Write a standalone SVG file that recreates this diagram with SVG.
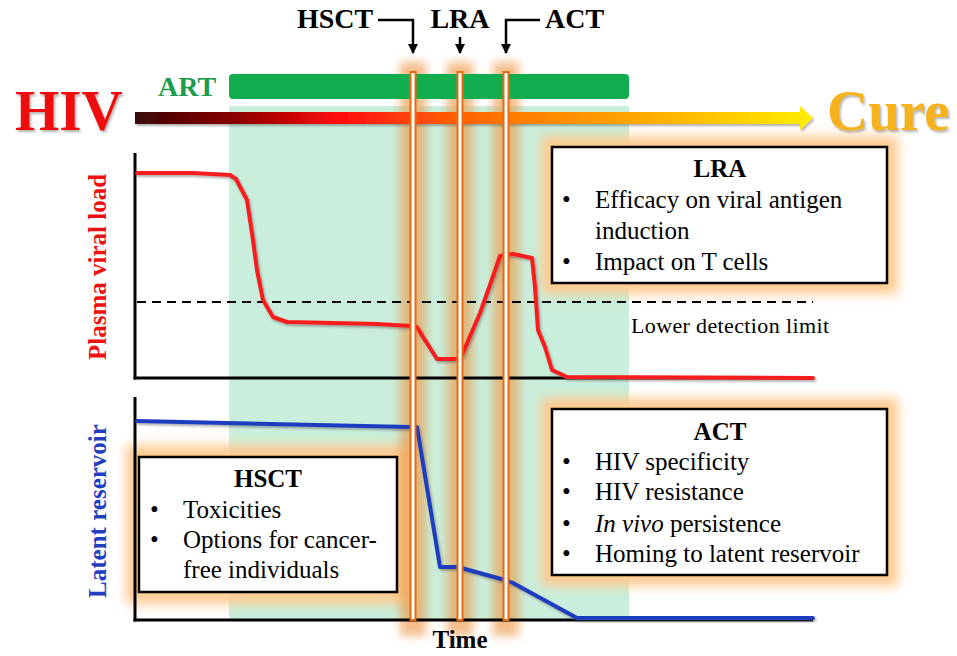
<svg xmlns="http://www.w3.org/2000/svg" width="957" height="656" viewBox="0 0 957 656">
<style>
.serif{font-family:"Liberation Serif","Times New Roman",serif}
.b{font-weight:bold}
.boxtxt{font-family:"Liberation Serif","Times New Roman",serif;font-size:25px;fill:#000}
.title{font-family:"Liberation Serif","Times New Roman",serif;font-size:25px;font-weight:bold;text-anchor:middle;fill:#000}
.box{fill:#fff;stroke:#000;stroke-width:2.5}
.boxglow{fill:#ffcb90;filter:url(#blur6)}
.barglow{fill:#ee9440;opacity:.62;filter:url(#blur5)}
.bar{fill:#fff;stroke:#ea6a12;stroke-width:2}
.axis{stroke:#000;stroke-width:3;fill:none}
.conn{stroke:#000;stroke-width:2.5;fill:none}
.toplabel{font-family:"Liberation Serif","Times New Roman",serif;font-size:28px;font-weight:bold;fill:#000}
</style>
<defs>
<filter id="blur6" x="-30%" y="-30%" width="160%" height="160%"><feGaussianBlur stdDeviation="6"/></filter>
<filter id="blur5" x="-100%" y="-10%" width="300%" height="120%"><feGaussianBlur stdDeviation="5"/></filter>
<filter id="shadow" x="-10%" y="-20%" width="120%" height="160%"><feDropShadow dx="1.5" dy="2" stdDeviation="1.2" flood-color="#555" flood-opacity="0.45"/></filter>
<linearGradient id="cureGrad" gradientUnits="userSpaceOnUse" x1="135" y1="0" x2="813" y2="0">
<stop offset="0" stop-color="#3a0808"/>
<stop offset="0.15" stop-color="#8c0000"/>
<stop offset="0.3" stop-color="#ff0a0a"/>
<stop offset="0.42" stop-color="#ff4a08"/>
<stop offset="0.55" stop-color="#ff7a00"/>
<stop offset="0.75" stop-color="#ffaa00"/>
<stop offset="1" stop-color="#ffee00"/>
</linearGradient>
<marker id="arrowhead" viewBox="0 0 10 10" refX="9" refY="5" markerWidth="4" markerHeight="4.4" orient="auto" markerUnits="strokeWidth">
<path d="M0,0 L10,5 L0,10 z" fill="#000"/>
</marker>
</defs>

<rect width="957" height="656" fill="#fff"/>

<!-- ART shaded region -->
<rect id="art-region" x="229" y="106" width="400" height="514" fill="#c9eedb"/>

<!-- box glows -->
<rect class="boxglow" x="541" y="136" width="357" height="158"/>
<rect class="boxglow" x="541" y="398" width="357" height="188"/>
<rect class="boxglow" x="126" y="445" width="284" height="159"/>

<!-- bar glows -->
<rect class="barglow" x="400" y="62" width="26" height="574"/>
<rect class="barglow" x="447" y="62" width="26" height="574"/>
<rect class="barglow" x="493" y="62" width="26" height="574"/>

<!-- Title texts -->
<g id="hiv-label"><text class="serif b" x="15" y="130" font-size="57" fill="#ee1111" filter="url(#shadow)">HIV</text></g>
<g id="cure-label"><text class="serif b" x="827" y="130" font-size="57" fill="#f5b21c" filter="url(#shadow)">Cure</text></g>

<!-- Gradient arrow -->
<g id="progress-arrow"><path d="M135,112 L800,112 L800,106 L813,118 L800,130 L800,124 L135,124 Z" fill="url(#cureGrad)" filter="url(#shadow)"/></g>

<!-- ART -->
<g id="art">
<text class="serif b" x="158" y="96" font-size="28" fill="#1a9e4e">ART</text>
<rect x="229" y="74" width="400" height="25" rx="4" fill="#12ad4f"/>
</g>

<!-- Plot 1 -->
<g id="plot-viral-load">
<line class="axis" x1="135" y1="153" x2="135" y2="379.5"/>
<line class="axis" x1="133.5" y1="378" x2="813" y2="378"/>
<line x1="137" y1="302" x2="813" y2="302" stroke="#000" stroke-width="2" stroke-dasharray="9 6"/>
<text class="serif" x="631" y="333" font-size="22" textLength="198" lengthAdjust="spacing">Lower detection limit</text>
<path d="M137,173 L193,173 L230,175 L236,179 L247,200 L253,240 L257,270 L263,300 L273,317 L287,322 L377,324 L411,326 L417,327 L423,337 L430,348 L437,359 L457,359 L462,355 L480,313 L490,285 L500,256 L513,254 L532,258 L535,287 L538,330 L545,347 L552,370 L567,377 L813,378" fill="none" stroke="#f81c1c" stroke-width="4" stroke-linejoin="round" stroke-linecap="round" filter="url(#shadow)"/>
<text class="serif b" transform="translate(106,267) rotate(-90)" text-anchor="middle" font-size="25" fill="#ee1111">Plasma viral load</text>
</g>

<!-- Plot 2 -->
<g id="plot-reservoir">
<line class="axis" x1="135" y1="397" x2="135" y2="621.5"/>
<line class="axis" x1="133.5" y1="620" x2="813" y2="620"/>
<path d="M137,421 L410,427 L417,427 L440,567 L457,567 L465,569 L505,580 L513,583 L577,618 L813,618" fill="none" stroke="#1f3ec0" stroke-width="4" stroke-linejoin="round" stroke-linecap="round" filter="url(#shadow)"/>
<text class="serif b" transform="translate(106,511) rotate(-90)" text-anchor="middle" font-size="25" fill="#1f3ec0">Latent reservoir</text>
</g>

<g id="time-label"><text class="serif b" x="460" y="648" text-anchor="middle" font-size="25">Time</text></g>

<!-- vertical bars -->
<g id="bar-hsct"><rect class="bar" x="410.5" y="72" width="5" height="548"/></g>
<g id="bar-lra"><rect class="bar" x="457.5" y="72" width="5" height="548"/></g>
<g id="bar-act"><rect class="bar" x="503.5" y="72" width="5" height="548"/></g>

<!-- top labels -->
<g id="label-hsct"><text class="toplabel" x="297" y="28">HSCT</text></g>
<g id="label-lra"><text class="toplabel" x="460" y="28" text-anchor="middle">LRA</text></g>
<g id="label-act"><text class="toplabel" x="545" y="28">ACT</text></g>

<!-- connectors -->
<g id="connectors">
<path class="conn" d="M378,20 L413,20 L413,53" marker-end="url(#arrowhead)"/>
<path class="conn" d="M460,37 L460,53" marker-end="url(#arrowhead)"/>
<path class="conn" d="M540,20 L506,20 L506,53" marker-end="url(#arrowhead)"/>
</g>

<!-- LRA box -->
<g id="box-lra">
<rect class="box" x="552" y="147" width="335" height="136"/>
<text class="title" x="720" y="177">LRA</text>
<text class="boxtxt" x="562" y="208">•</text>
<text class="boxtxt" x="595" y="208">Efficacy on viral antigen</text>
<text class="boxtxt" x="595" y="239">induction</text>
<text class="boxtxt" x="562" y="270">•</text>
<text class="boxtxt" x="595" y="270">Impact on T cells</text>
</g>

<!-- ACT box -->
<g id="box-act">
<rect class="box" x="552" y="409" width="335" height="166"/>
<text class="title" x="720" y="440">ACT</text>
<text class="boxtxt" x="562" y="470">•</text>
<text class="boxtxt" x="595" y="470">HIV specificity</text>
<text class="boxtxt" x="562" y="500">•</text>
<text class="boxtxt" x="595" y="500">HIV resistance</text>
<text class="boxtxt" x="562" y="532">•</text>
<text class="boxtxt" x="595" y="532"><tspan font-style="italic">In vivo</tspan> persistence</text>
<text class="boxtxt" x="562" y="562">•</text>
<text class="boxtxt" x="595" y="562">Homing to latent reservoir</text>
</g>

<!-- HSCT box -->
<g id="box-hsct">
<rect class="box" x="139" y="457" width="258" height="135"/>
<text class="title" x="268" y="487">HSCT</text>
<text class="boxtxt" x="150" y="518">•</text>
<text class="boxtxt" x="183" y="518">Toxicities</text>
<text class="boxtxt" x="150" y="548">•</text>
<text class="boxtxt" x="183" y="548">Options for cancer-</text>
<text class="boxtxt" x="183" y="578">free individuals</text>
</g>
</svg>
